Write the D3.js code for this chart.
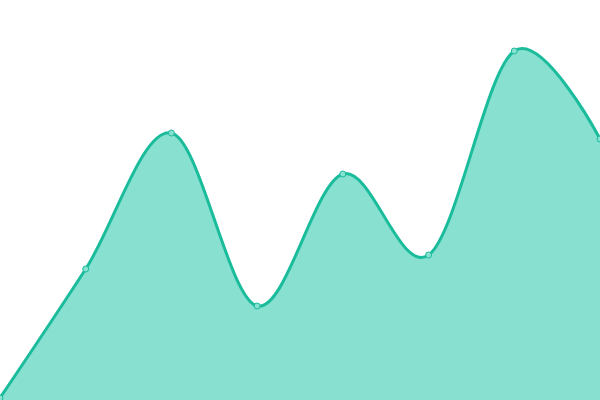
<!DOCTYPE html>
<html>
<head>
<meta charset="utf-8">
<script src="https://cdn.jsdelivr.net/npm/d3@7"></script>
<style>
  html, body { margin: 0; padding: 0; background: #fff; }
  svg { display: block; }
</style>
</head>
<body>
<div id="chart"></div>
<script>
  // Daten
  const categories = [0, 1, 2, 3, 4, 5, 6, 7];
  const values = [2, 131, 267, 94, 226, 145, 349, 261];

  const width = 600, height = 400;

  const svg = d3.select('#chart').append('svg')
    .attr('width', width)
    .attr('height', height);

  const x = d3.scaleLinear()
    .domain(d3.extent(categories))
    .range([0, width]);

  const y = d3.scaleLinear()
    .domain([0, 400])
    .range([height, 0]);

  const data = categories.map((c, i) => ({ c, v: values[i] }));

  const curve = d3.curveCardinal.tension(0);

  // Fläche
  svg.append('path')
    .datum(data)
    .attr('fill', '#88e0d0')
    .attr('d', d3.area()
      .x(d => x(d.c))
      .y0(height)
      .y1(d => y(d.v))
      .curve(curve));

  // Linie
  svg.append('path')
    .datum(data)
    .attr('fill', 'none')
    .attr('stroke', '#1abc9c')
    .attr('stroke-width', 3)
    .attr('d', d3.line()
      .x(d => x(d.c))
      .y(d => y(d.v))
      .curve(curve));

  // Punkte
  svg.append('g')
    .selectAll('circle')
    .data(data)
    .enter()
    .append('circle')
    .attr('cx', d => x(d.c))
    .attr('cy', d => y(d.v))
    .attr('r', 3)
    .attr('fill', '#88e0d0')
    .attr('stroke', '#1abc9c')
    .attr('stroke-width', 1);
</script>
</body>
</html>
